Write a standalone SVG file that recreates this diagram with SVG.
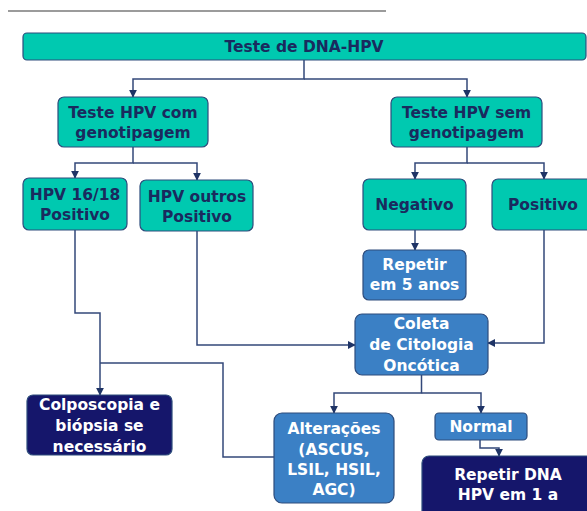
<svg xmlns="http://www.w3.org/2000/svg" width="587" height="511" viewBox="0 0 587 511">
  <defs>
    <marker id="arrow" viewBox="0 0 10 10" refX="9" refY="5" markerWidth="8" markerHeight="8" markerUnits="userSpaceOnUse" orient="auto">
      <path d="M0,0 L10,5 L0,10 z" fill="#1f3466"/>
    </marker>
    <style>
      .teal { fill: #00c9b0; stroke: #2e4c7c; stroke-width: 1.2; }
      .blue { fill: #3b80c5; stroke: #2e4c7c; stroke-width: 1.2; }
      .navy { fill: #15166b; stroke: #2e4c7c; stroke-width: 1.2; }
      text { font-family: "DejaVu Sans", "Liberation Sans", sans-serif; font-weight: bold; font-size: 15.5px; text-anchor: middle; }
      .dark { fill: #1a2a5e; }
      .light { fill: #ffffff; }
      .wire { fill: none; stroke: #33487a; stroke-width: 1.5; }
    </style>
  </defs>

  <rect width="587" height="511" fill="#ffffff"/>
  <!-- rule above the chart -->
  <line x1="8" y1="11" x2="386" y2="11" stroke="#7a7a7a" stroke-width="1.5"/>

  <g id="connectors">
    <path class="wire" d="M304,60 V79 H133 V97" marker-end="url(#arrow)"/>
    <path class="wire" d="M304,79 H467 V97" marker-end="url(#arrow)"/>
    <path class="wire" d="M133,147 V163 H75 V178" marker-end="url(#arrow)"/>
    <path class="wire" d="M133,163 H197 V180" marker-end="url(#arrow)"/>
    <path class="wire" d="M467,147 V163 H415 V179" marker-end="url(#arrow)"/>
    <path class="wire" d="M467,163 H544 V179" marker-end="url(#arrow)"/>
    <path class="wire" d="M415,230 V250" marker-end="url(#arrow)"/>
    <path class="wire" d="M544,230 V343 H488" marker-end="url(#arrow)"/>
    <path class="wire" d="M197,231 V345 H355" marker-end="url(#arrow)"/>
    <path class="wire" d="M75,230 V313 H100 V395" marker-end="url(#arrow)"/>
    <path class="wire" d="M274,457 H223 V363 H100"/>
    <path class="wire" d="M421.5,375 V393 H334 V413" marker-end="url(#arrow)"/>
    <path class="wire" d="M421.5,393 H481 V413" marker-end="url(#arrow)"/>
    <path class="wire" d="M480,440 V448 H499 V456" marker-end="url(#arrow)"/>
  </g>

  <g id="teste-dna-hpv">
    <rect class="teal" x="23" y="33" width="563" height="27" rx="4"/>
    <text class="dark" x="304" y="51.5">Teste de DNA-HPV</text>
  </g>

  <g id="teste-com-genotipagem">
    <rect class="teal" x="58" y="97" width="150" height="50" rx="6"/>
    <text class="dark" x="133" y="118">Teste HPV com</text>
    <text class="dark" x="133" y="138">genotipagem</text>
  </g>

  <g id="teste-sem-genotipagem">
    <rect class="teal" x="391" y="97" width="151" height="50" rx="6"/>
    <text class="dark" x="466.5" y="118">Teste HPV sem</text>
    <text class="dark" x="466.5" y="138">genotipagem</text>
  </g>

  <g id="hpv-16-18">
    <rect class="teal" x="23" y="178" width="104" height="52" rx="6"/>
    <text class="dark" x="75" y="200">HPV 16/18</text>
    <text class="dark" x="75" y="220">Positivo</text>
  </g>

  <g id="hpv-outros">
    <rect class="teal" x="140" y="180" width="113" height="51" rx="6"/>
    <text class="dark" x="197" y="202">HPV outros</text>
    <text class="dark" x="197" y="222">Positivo</text>
  </g>

  <g id="negativo">
    <rect class="teal" x="363" y="179" width="103" height="51" rx="6"/>
    <text class="dark" x="414.5" y="210">Negativo</text>
  </g>

  <g id="positivo">
    <rect class="teal" x="492" y="179" width="104" height="51" rx="6"/>
    <text class="dark" x="543" y="210">Positivo</text>
  </g>

  <g id="repetir-5-anos">
    <rect class="blue" x="363" y="250" width="103" height="50" rx="6"/>
    <text class="light" x="414.5" y="270">Repetir</text>
    <text class="light" x="414.5" y="290">em 5 anos</text>
  </g>

  <g id="coleta-citologia">
    <rect class="blue" x="355" y="314" width="133" height="61" rx="7"/>
    <text class="light" x="421.5" y="329">Coleta</text>
    <text class="light" x="421.5" y="350">de Citologia</text>
    <text class="light" x="421.5" y="371">Oncótica</text>
  </g>

  <g id="colposcopia">
    <rect class="navy" x="27" y="395" width="145" height="60" rx="6"/>
    <text class="light" x="99.5" y="410">Colposcopia e</text>
    <text class="light" x="99.5" y="431">biópsia se</text>
    <text class="light" x="99.5" y="452">necessário</text>
  </g>

  <g id="alteracoes">
    <rect class="blue" x="274" y="413" width="120" height="90" rx="8"/>
    <text class="light" x="334" y="434">Alterações</text>
    <text class="light" x="334" y="455">(ASCUS,</text>
    <text class="light" x="334" y="475">LSIL, HSIL,</text>
    <text class="light" x="334" y="495">AGC)</text>
  </g>

  <g id="normal">
    <rect class="blue" x="435" y="413" width="92" height="27" rx="4"/>
    <text class="light" x="481" y="432">Normal</text>
  </g>

  <g id="repetir-dna-1-ano">
    <rect class="navy" x="422" y="456" width="172" height="70" rx="7"/>
    <text class="light" x="508" y="480">Repetir DNA</text>
    <text class="light" x="508" y="500">HPV em 1 a</text>
  </g>
</svg>
